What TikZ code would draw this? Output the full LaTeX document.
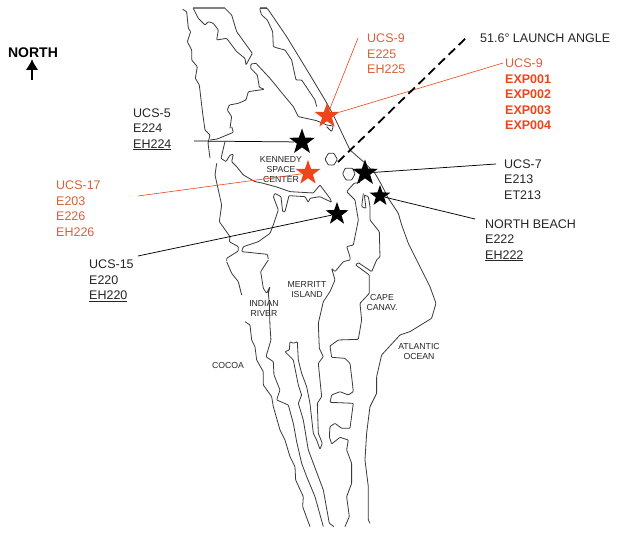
\documentclass[tikz,border=0pt]{standalone}
\usepackage{fontspec}
\setmainfont{Liberation Sans}
\usetikzlibrary{shapes.geometric,arrows.meta}
\definecolor{redstar}{HTML}{F0441A}
\definecolor{redtxt}{HTML}{D8613C}
\definecolor{coast}{HTML}{3A3A3A}
\tikzset{
  coastline/.style={draw=coast,line width=0.8pt,line join=round,rounded corners=0.8pt},
  coastbar/.style={draw=gray,line width=1.4pt},
  starblack/.style={star,star points=5,star point ratio=2.5,fill=black,draw=none,inner sep=0pt,minimum size=#1},
  starred/.style={star,star points=5,star point ratio=2.5,fill=redstar,draw=none,inner sep=0pt,minimum size=#1},
  lblack/.style={anchor=north west,align=left,inner sep=0pt,font=\fontsize{12.5}{15.4}\selectfont,text=black!85},
  lred/.style={anchor=north west,align=left,inner sep=0pt,font=\fontsize{12.5}{15.4}\selectfont,text=redtxt},
  small/.style={align=center,inner sep=0pt,font=\fontsize{8.7}{10}\selectfont,text=black!85},
  leadblack/.style={black,line width=0.75pt},
  leadred/.style={redstar,line width=0.6pt}
}
\begin{document}
\begin{tikzpicture}[x=1pt,y=-1pt]
\useasboundingbox (0,0) rectangle (619,537);
\fill[white] (0,0) rectangle (619,537);
% coastlines, upper part
\begin{scope}[shift={(170,0)},x=0.3333pt,y=-0.3333pt]
\draw[coastbar] (70,24)--(165,24);
\draw[coastbar] (270,24)--(292,24);
\draw[coastline] (38,28)--(50,35)--(55,85)--(62,95)--(52,125)--(65,150)--(65,180)--(82,200)--(76,235)--(88,255)--(92,290)--(98,340)--(105,390)--(120,405)--(114,429)--(120,474);
\draw[coastline] (70,25)--(85,55)--(105,75)--(115,65)--(130,70)--(145,90)--(140,120)--(170,115)--(200,155)--(225,175)--(228,195)--(247,160)--(200,95)--(185,45)--(165,25);
\draw[coastline] (258,190)--(243,192)--(242,205)--(262,225)--(268,262)--(283,268)--(235,275)--(228,300)--(205,310)--(178,315)--(172,330)--(185,350)--(180,385);
\draw[coastline] (258,190)--(300,235)--(345,290)--(370,320)--(385,350)--(440,362)--(470,375)--(490,378)--(485,395)--(470,380);
\draw[coastline] (270,25)--(270,30)--(275,45)--(292,60)--(308,95)--(310,140)--(325,145)--(345,150)--(365,180)--(378,240)--(395,240)--(435,300)--(440,320);
\draw[coastline] (270,25)--(292,25)--(350,110)--(420,225)--(465,300)--(490,345)--(540,450);
\end{scope}
% coastlines, central west
\begin{scope}[shift={(210,125)},x=0.3333pt,y=-0.3333pt]
\draw[coastline] (20,115)--(15,150)--(35,240)--(28,290)--(60,335)--(58,350)--(85,365)--(85,378)--(50,400)--(50,408);
\draw[coastline] (65,5)--(70,22)--(22,42)--(0,45);
\draw[coastline] (45,50)--(33,100)--(48,110)--(60,90)--(70,88)--(65,110)--(80,125)--(100,150)--(135,170)--(156,174)--(200,186)--(240,200)--(310,204)--(330,180)--(360,220)--(365,232)--(330,215)--(300,220)--(295,232)--(285,215)--(237,212)--(225,260)--(218,260)--(213,215)--(195,205)--(190,215)--(205,255)--(190,300)--(180,325)--(145,350)--(100,365)--(95,380)--(172,388)--(175,402);
\end{scope}
% coastlines, central east
\begin{scope}[shift={(320,150)},x=0.3333pt,y=-0.3333pt]
\draw[coastline] (25,10)--(42,10)--(52,28)--(42,45)--(25,45)--(15,28)--cycle;
\draw[coastline] (75,55)--(98,55)--(105,72)--(95,90)--(78,90)--(68,72)--cycle;
\draw[coastline] (90,0)--(130,35)--(165,70)--(185,105)--(205,145)--(235,190)--(245,225)--(265,280)--(290,330);
\draw[coastline] (120,97)--(102,100)--(80,125)--(105,150)--(115,210)--(100,285)--(80,290)--(90,320)--(90,330);
\draw[coastline] (130,130)--(125,170)--(138,175)--(133,135)--(145,140)--(150,170)--(150,210)--(178,245)--(180,320)--(170,330);
\end{scope}
% coastlines, lower part
\begin{scope}[shift={(130,260)},x=0.3333pt,y=-0.3333pt]
\draw[coastline] (290,5)--(305,40)--(325,65)--(335,105);
\draw[coastline] (345,185)--(360,195)--(365,240)--(375,260)--(380,300)--(400,335)--(400,375)--(425,410)--(430,440)--(450,510)--(465,540)--(480,590)--(495,620)--(497,660)--(520,710)--(518,740)--(540,800);
\draw[coastline] (415,0)--(392,35)--(400,85)--(410,100)--(420,80)--(415,100)--(418,130)--(420,200)--(423,240)--(408,290)--(430,305)--(432,345)--(450,390)--(440,420)--(475,435)--(490,490)--(500,545)--(515,610)--(530,650)--(555,710)--(580,800);
\draw[coastline] (660,0)--(640,5)--(615,35)--(605,25)--(615,60)--(600,95)--(580,125)--(565,190)--(568,265)--(580,290)--(565,310)--(575,410)--(562,430)--(565,520)--(577,550)--(570,568)--(560,540)--(550,520)--(540,430)--(530,380)--(515,340)--(505,300)--(502,245)--(490,250)--(480,245)--(478,270)--(465,275)--(490,300)--(505,375)--(515,405)--(505,430)--(520,480)--(535,570)--(565,650)--(580,690)--(598,790)--(612,800);
\draw[coastline] (740,0)--(725,35)--(685,8)--(677,15)--(718,45)--(718,100)--(690,130)--(695,180)--(685,238)--(625,240)--(600,258)--(605,292)--(645,295)--(660,310)--(665,350)--(670,395)--(655,405)--(630,395)--(605,405)--(600,427)--(670,430)--(660,505)--(635,505)--(615,490)--(600,500)--(598,530)--(605,552)--(630,532)--(655,540)--(650,570)--(665,610)--(665,670)--(650,710)--(658,770)--(645,800);
\draw[coastline] (860,0)--(900,80)--(918,130)--(905,175)--(840,215)--(810,225)--(755,285)--(740,350)--(740,400)--(720,440)--(710,520)--(705,600)--(715,680)--(715,780)--(720,790);
\end{scope}
% stars
\node[starred=26] (s9) at (327,116) {};
\node[starblack=27] (s5) at (302,142) {};
\node[starred=26] (s17) at (308,173) {};
\node[starblack=27] (s7) at (365,173) {};
\node[starblack=22] (sn) at (380,196) {};
\node[starblack=24] (s15) at (337,214) {};
% text labels
\node[lred] (t9a) at (367,34) {UCS-9\\E225\\EH225};
\node[lred] (t9b) at (505,59) {UCS-9\\\textbf{\textcolor{redstar}{EXP001}}\\\textbf{\textcolor{redstar}{EXP002}}\\\textbf{\textcolor{redstar}{EXP003}}\\\textbf{\textcolor{redstar}{EXP004}}};
\node[lblack] (t5) at (133,108.5) {UCS-5\\E224\\\underline{EH224}};
\node[lred] (t17) at (56,181) {UCS-17\\E203\\E226\\EH226};
\node[lblack] (t15) at (89,260) {UCS-15\\E220\\\underline{EH220}};
\node[lblack] (t7) at (504,159.5) {UCS-7\\E213\\ET213};
\node[lblack] (tn) at (485,219.5) {NORTH BEACH\\E222\\\underline{EH222}};
\node[lblack,anchor=west] (tl) at (480,38) {51.6° LAUNCH ANGLE};
\node[inner sep=0pt,font=\fontsize{14}{16}\selectfont\bfseries] (north) at (33,53) {NORTH};
\node[small] (k1) at (281,170) {KENNEDY\\SPACE\\CENTER};
\node[small] (k2) at (307,290) {MERRITT\\ISLAND};
\node[small] (k3) at (264,309) {INDIAN\\RIVER};
\node[small] (k4) at (382,303) {CAPE\\CANAV.};
\node[small] (k5) at (419,352) {ATLANTIC\\OCEAN};
\node[small] (k6) at (228,366) {COCOA};
% leaders
\coordinate (c9a) at (358,38);
\coordinate (c9b) at (503,63);
\coordinate (c5) at (194,141);
\coordinate (c17) at (138,196);
\coordinate (c15) at (138,256);
\coordinate (c7) at (496,164);
\coordinate (cn) at (475,219);
\coordinate (da) at (338,162);
\coordinate (db) at (468,36);
\coordinate (na) at (32,80);
\coordinate (nb) at (32,59);
\draw[leadred] (s9) -- (c9a);
\draw[leadred] (s9) -- (c9b);
\draw[leadblack] (s5) -- (c5);
\draw[leadred] (s17) -- (c17);
\draw[leadblack] (s15) -- (c15);
\draw[leadblack] (s7) -- (c7);
\draw[leadblack] (sn) -- (cn);
\draw[black,line width=1.8pt,dash pattern=on 9pt off 5pt] (da) -- (db);
\draw[-{Latex[length=11pt,width=13pt]},black,line width=2.6pt] (na) -- (nb);
\end{tikzpicture}
\end{document}
